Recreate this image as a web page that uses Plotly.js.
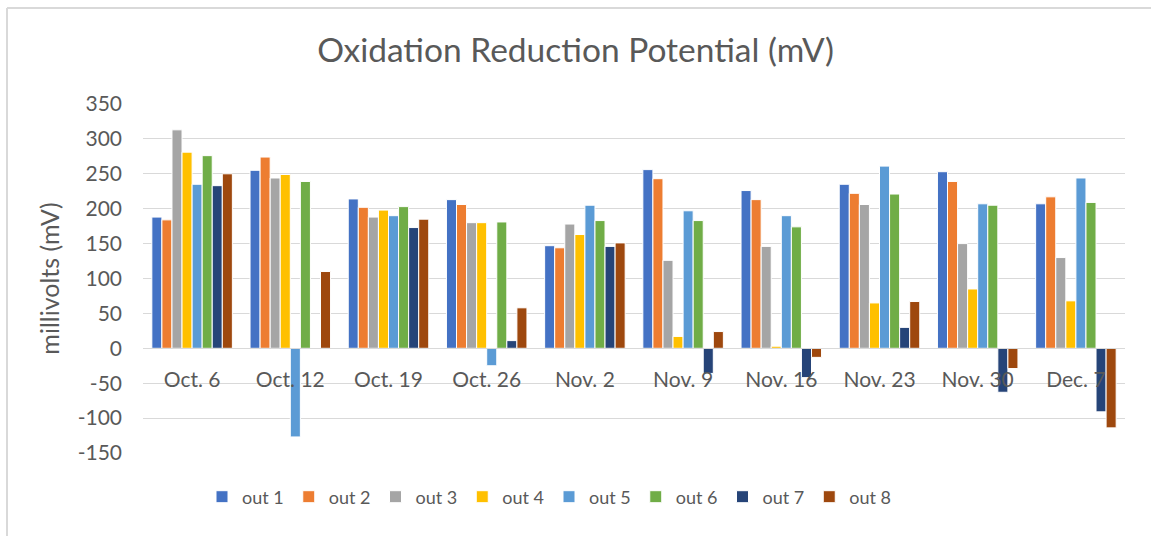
<!DOCTYPE html>
<html>
<head>
<meta charset="utf-8">
<script src="https://cdn.plot.ly/plotly-3.0.1.min.js"></script>
<style>html,body{margin:0;padding:0;background:#fff;}#chart{width:1151px;height:536px;}</style>
</head>
<body>
<div id="chart"></div>
<script>
const categories = ["Oct. 6","Oct. 12","Oct. 19","Oct. 26","Nov. 2","Nov. 9","Nov. 16","Nov. 23","Nov. 30","Dec. 7"];
const out1 = [188, 255, 214, 213, 147, 256, 226, 235, 253, 207];
const out2 = [184, 274, 202, 206, 144, 243, 213, 222, 239, 217];
const out3 = [313, 244, 188, 180, 178, 126, 146, 206, 150, 130];
const out4 = [281, 249, 198, 180, 163, 17, 3, 65, 85, 68];
const out5 = [235, -127, 190, -25, 205, 197, 190, 261, 207, 244];
const out6 = [276, 239, 203, 181, 183, 183, 174, 221, 205, 209];
const out7 = [233, null, 173, 11, 146, -36, -42, 30, -63, -91];
const out8 = [250, 110, 185, 58, 151, 24, -13, 67, -29, -114];
const seriesNames = ["out 1","out 2","out 3","out 4","out 5","out 6","out 7","out 8"];
const seriesValues = [out1,out2,out3,out4,out5,out6,out7,out8];
const colors = ["#4472C4","#ED7D31","#A5A5A5","#FFC000","#5B9BD5","#70AD47","#264478","#9E480E"];
const yTicks = [-150,-100,-50,0,50,100,150,200,250,300,350];

const font = "Lato, Noto Sans, sans-serif";
const traces = seriesNames.map((n,i)=>({
  type:'bar', name:n, x:categories, y:seriesValues[i],
  marker:{color:colors[i], line:{color:'#ffffff', width:1}}
}));

const L = 143, R = 1125, T = 104, B = 453;
const pw = R - L;
const ph = B - T;
const layout = {
  width:1151, height:536,
  margin:{l:L, r:1151-R, t:T, b:536-B, pad:0},
  paper_bgcolor:'#ffffff', plot_bgcolor:'#ffffff',
  barmode:'group', bargap:0.18, bargroupgap:0,
  title:{text:'Oxidation Reduction Potential (mV)', font:{family:font, size:33.5, color:'#595959'}, x:0.5, xanchor:'center', y:1-50/536, yanchor:'middle'},
  xaxis:{
    type:'category', anchor:'free', position:0.3, showline:true, linecolor:'#d9d9d9', linewidth:1,
    ticks:'', ticklabelstandoff:12, showgrid:false, zeroline:false, tickfont:{family:font, size:21, color:'#595959'}
  },
  yaxis:{
    range:[-150,350], tickvals:yTicks, ticktext:yTicks.map(String), showgrid:true, gridcolor:'#d9d9d9', gridwidth:1,
    zeroline:false, showline:false, ticks:'', ticklabelstandoff:20,
    tickfont:{family:font, size:21, color:'#595959'},
    title:{text:'millivolts (mV)', font:{family:font, size:25, color:'#595959'}, standoff:10}
  },
  legend:{orientation:'h', x:(549-L)/pw, xanchor:'center', y:-(497-B)/ph, yanchor:'middle',
    font:{family:font, size:18, color:'#595959'}, traceorder:'normal', itemwidth:30},
  showlegend:true,
  shapes:[
    {type:'line', xref:'paper', yref:'paper', x0:(7-L)/pw, x1:(1151-L)/pw, y0:1+(T-8)/ph, y1:1+(T-8)/ph, line:{color:'#d9d9d9', width:2}},
    {type:'line', xref:'paper', yref:'paper', x0:(7-L)/pw, x1:(7-L)/pw, y0:1+(T-8)/ph, y1:-(536-B)/ph, line:{color:'#d9d9d9', width:2}}
  ]
};
Plotly.newPlot('chart', traces, layout, {displayModeBar:false, staticPlot:true});
</script>
</body>
</html>
